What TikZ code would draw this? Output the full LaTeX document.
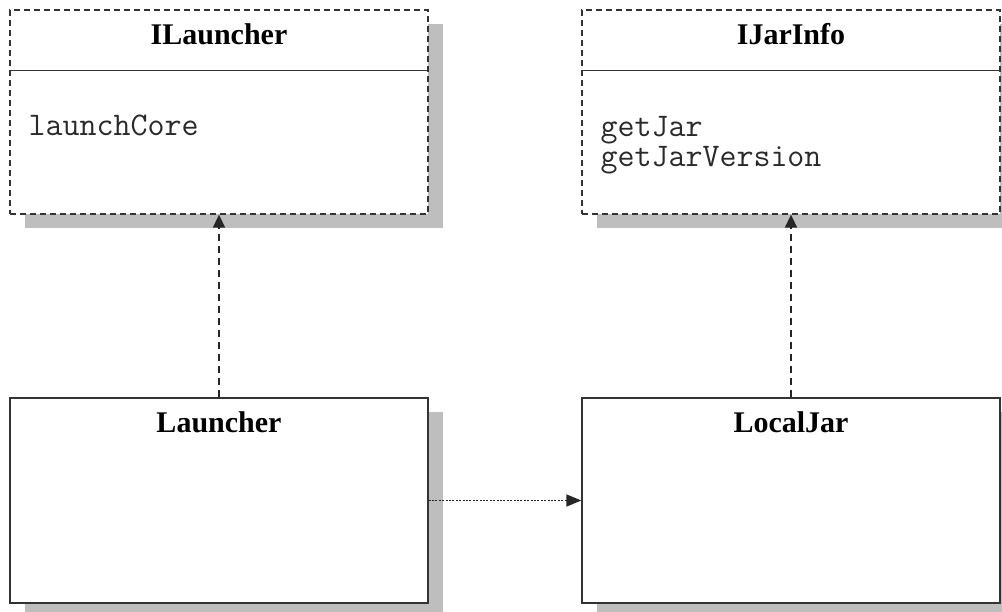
\documentclass[tikz,border=0pt]{standalone}
\usepackage{fontspec}
\setmainfont{Liberation Serif}
\usetikzlibrary{arrows.meta,shadows}
\definecolor{edgegray}{HTML}{333333}
\definecolor{shadegray}{HTML}{BEBEBE}
\definecolor{opgray}{HTML}{2A2A2A}
\tikzset{
  classbox/.style={draw=edgegray, line width=1.3pt, fill=white,
    minimum width=418pt, minimum height=204pt, inner sep=0pt,
    general shadow={fill=shadegray, shadow xshift=15pt, shadow yshift=-14pt}},
  ifacebox/.style={classbox, dash pattern=on 6pt off 4pt},
  classtitle/.style={anchor=base, inner sep=0pt,
    font=\fontsize{30pt}{31pt}\selectfont\bfseries},
  optext/.style={anchor=base west, inner sep=0pt, text=opgray,
    font=\fontsize{33pt}{34pt}\selectfont\ttfamily},
  realize/.style={draw=black!85, line width=1.6pt, dash pattern=on 7pt off 5pt,
    -{Triangle[length=13pt,width=12pt]}},
  uses/.style={draw=black!85, line width=1.6pt, dash pattern=on 2pt off 1.4pt,
    -{Triangle[length=15pt,width=12pt]}}
}
\begin{document}
\begin{tikzpicture}[x=1pt,y=-1pt]
  \fill[white] (0,0) rectangle (1002,612);
  \useasboundingbox (0,0) rectangle (1002,612);
  \clip (0,0) rectangle (1002,612);

  % interfaces
  \node[ifacebox] (ilauncher) at (219,112) {};
  \node[ifacebox] (ijarinfo) at (791,112) {};
  % implementing classes
  \node[classbox, minimum height=205pt] (launcher) at (219,500.5) {};
  \node[classbox, minimum height=205pt] (localjar) at (791,500.5) {};

  % compartment separators
  \draw[edgegray, line width=1.3pt] ([yshift=-61pt]ilauncher.north west) -- ([yshift=-61pt]ilauncher.north east);
  \draw[edgegray, line width=1.3pt] ([yshift=-61pt]ijarinfo.north west) -- ([yshift=-61pt]ijarinfo.north east);

  % titles
  \node[classtitle] (t1) at ([yshift=-35.5pt]ilauncher.north) {ILauncher};
  \node[classtitle] (t2) at ([yshift=-35.5pt]ijarinfo.north) {IJarInfo};
  \node[classtitle] (t3) at ([yshift=-35pt]launcher.north) {Launcher};
  \node[classtitle] (t4) at ([yshift=-35pt]localjar.north) {LocalJar};

  % operations
  \node[optext] (op1) at ([xshift=19pt,yshift=-126pt]ilauncher.north west) {launchCore};
  \node[optext] (op2) at ([xshift=19pt,yshift=-127pt]ijarinfo.north west) {getJar};
  \node[optext] (op3) at ([xshift=19pt,yshift=-157pt]ijarinfo.north west) {getJarVersion};

  % relations
  \draw[realize] (launcher.north) -- (ilauncher.south);
  \draw[realize] (localjar.north) -- (ijarinfo.south);
  \draw[uses] (launcher.east) -- (localjar.west);
\end{tikzpicture}
\end{document}
